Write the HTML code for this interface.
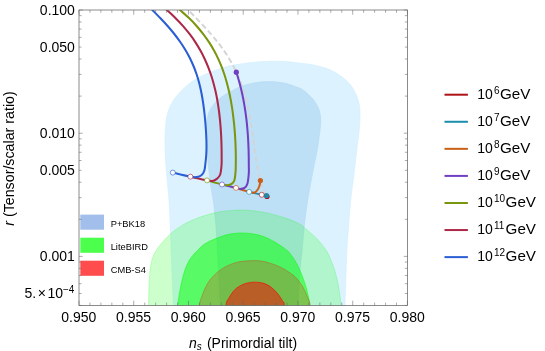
<!DOCTYPE html>
<html><head><meta charset="utf-8"><title>ns-r plot</title>
<style>
html,body{margin:0;padding:0;background:#fff;}
body{width:545px;height:351px;position:relative;overflow:hidden;font-family:"Liberation Sans",sans-serif;}
</style></head><body>
<svg width="545" height="351" viewBox="0 0 545 351" style="position:absolute;left:0;top:0;will-change:transform">
<defs><clipPath id="cp"><rect x="79.00" y="10.00" width="328.45" height="295.40"/></clipPath></defs>
<g clip-path="url(#cp)">
<path d="M173.30 330.00 C144.68 325.93 173.43 313.23 173.30 305.60 C173.17 297.97 172.85 293.47 172.50 284.20 C172.15 274.93 171.60 260.37 171.20 250.00 C170.80 239.63 170.47 230.33 170.10 222.00 C169.73 213.67 169.42 206.17 169.00 200.00 C168.58 193.83 168.17 191.67 167.60 185.00 C167.03 178.33 166.02 165.83 165.60 160.00 C165.18 154.17 165.20 153.63 165.10 150.00 C165.00 146.37 164.95 141.88 165.00 138.20 C165.05 134.52 165.13 131.33 165.40 127.90 C165.67 124.47 165.98 120.78 166.60 117.60 C167.22 114.42 168.03 111.57 169.10 108.80 C170.17 106.03 171.33 103.60 173.00 101.00 C174.67 98.40 176.37 96.10 179.10 93.20 C181.83 90.30 185.98 86.30 189.40 83.60 C192.82 80.90 195.93 78.95 199.60 77.00 C203.27 75.05 206.98 73.62 211.40 71.90 C215.82 70.18 221.33 68.00 226.10 66.70 C230.87 65.40 235.23 64.85 240.00 64.10 C244.77 63.35 249.80 62.67 254.70 62.20 C259.60 61.73 264.52 61.42 269.40 61.30 C274.28 61.18 279.12 61.23 284.00 61.50 C288.88 61.77 293.58 62.28 298.70 62.90 C303.82 63.52 309.58 64.10 314.70 65.20 C319.82 66.30 325.00 67.67 329.40 69.50 C333.80 71.33 337.68 73.75 341.10 76.20 C344.52 78.65 347.45 81.27 349.90 84.20 C352.35 87.13 354.37 90.92 355.80 93.80 C357.23 96.68 357.83 99.00 358.50 101.50 C359.17 104.00 359.55 106.12 359.80 108.80 C360.05 111.48 360.08 114.17 360.00 117.60 C359.92 121.03 359.62 125.73 359.30 129.40 C358.98 133.07 358.52 136.17 358.10 139.60 C357.68 143.03 357.50 144.10 356.80 150.00 C356.10 155.90 354.92 166.67 353.90 175.00 C352.88 183.33 351.57 191.67 350.70 200.00 C349.83 208.33 349.33 216.67 348.70 225.00 C348.07 233.33 347.38 240.83 346.90 250.00 C346.42 259.17 346.12 270.73 345.80 280.00 C345.48 289.27 345.13 297.27 345.00 305.60 C344.87 313.93 373.62 325.93 345.00 330.00 C316.38 334.07 201.92 334.07 173.30 330.00Z" fill="#dcf3ff" stroke="#d0ecfd" stroke-width="0.6"/>
<path d="M220.30 330.00 C207.35 325.90 220.60 315.40 220.30 305.40 C220.00 295.40 219.15 282.23 218.50 270.00 C217.85 257.77 217.00 241.22 216.40 232.00 C215.80 222.78 215.43 220.03 214.90 214.70 C214.37 209.37 213.92 204.95 213.20 200.00 C212.48 195.05 211.42 190.83 210.60 185.00 C209.78 179.17 208.85 170.83 208.30 165.00 C207.75 159.17 207.63 155.00 207.30 150.00 C206.97 145.00 206.43 139.42 206.30 135.00 C206.17 130.58 206.25 126.67 206.50 123.50 C206.75 120.33 207.18 118.33 207.80 116.00 C208.42 113.67 209.23 111.42 210.20 109.50 C211.17 107.58 212.30 106.12 213.60 104.50 C214.90 102.88 215.92 101.55 218.00 99.80 C220.08 98.05 223.53 95.63 226.10 94.00 C228.67 92.37 230.83 91.28 233.40 90.00 C235.97 88.72 237.95 87.50 241.50 86.30 C245.05 85.10 250.05 83.58 254.70 82.80 C259.35 82.02 264.52 81.57 269.40 81.60 C274.28 81.63 279.60 82.15 284.00 83.00 C288.40 83.85 292.97 85.73 295.80 86.70 C298.63 87.67 299.17 87.77 301.00 88.80 C302.83 89.83 304.75 91.12 306.80 92.90 C308.85 94.68 311.50 97.27 313.30 99.50 C315.10 101.73 316.60 104.47 317.60 106.30 C318.60 108.13 318.80 108.62 319.30 110.50 C319.80 112.38 320.42 114.95 320.60 117.60 C320.78 120.25 320.63 123.22 320.40 126.40 C320.17 129.58 319.72 132.77 319.20 136.70 C318.68 140.63 318.32 144.12 317.25 150.00 C316.18 155.88 314.04 165.63 312.80 172.00 C311.56 178.37 310.64 183.53 309.80 188.20 C308.96 192.87 308.60 194.37 307.75 200.00 C306.90 205.63 305.64 213.67 304.70 222.00 C303.76 230.33 302.83 242.50 302.10 250.00 C301.37 257.50 300.90 259.88 300.30 267.00 C299.70 274.12 298.88 286.27 298.50 292.70 C298.12 299.13 298.08 299.38 298.00 305.60 C297.92 311.82 310.95 325.93 298.00 330.00 C285.05 334.07 233.25 334.10 220.30 330.00Z" fill="#bee0f7" stroke="#b5d8f2" stroke-width="0.6"/>
<path d="M148.50 330.00 C116.43 325.93 148.40 313.23 148.50 305.60 C148.60 297.97 148.80 290.33 149.10 284.20 C149.40 278.07 149.77 273.08 150.30 268.80 C150.83 264.52 151.27 261.63 152.30 258.50 C153.33 255.37 154.63 252.90 156.50 250.00 C158.37 247.10 160.87 244.05 163.50 241.10 C166.13 238.15 168.88 235.12 172.30 232.30 C175.72 229.48 179.60 226.65 184.00 224.20 C188.40 221.75 194.28 219.30 198.70 217.60 C203.12 215.90 206.95 214.97 210.50 214.00 C214.05 213.03 216.47 212.40 220.00 211.80 C223.53 211.20 227.78 210.70 231.70 210.40 C235.62 210.10 239.58 209.90 243.50 210.00 C247.42 210.10 251.28 210.52 255.20 211.00 C259.12 211.48 263.08 212.08 267.00 212.90 C270.92 213.72 274.78 214.75 278.70 215.90 C282.62 217.05 286.95 218.42 290.50 219.80 C294.05 221.18 297.63 222.85 300.00 224.20 C302.37 225.55 301.97 225.57 304.70 227.90 C307.43 230.23 312.85 234.52 316.40 238.20 C319.95 241.88 323.57 246.32 326.00 250.00 C328.43 253.68 329.45 256.60 331.00 260.30 C332.55 264.00 334.02 267.65 335.30 272.20 C336.58 276.75 337.77 282.03 338.70 287.60 C339.63 293.17 340.53 298.53 340.90 305.60 C341.27 312.67 372.97 325.93 340.90 330.00 C308.83 334.07 180.57 334.07 148.50 330.00Z" fill="rgb(0,255,0)" fill-opacity="0.2" stroke="rgb(0,255,0)" stroke-opacity="0.3" stroke-width="0.7"/>
<path d="M177.90 330.00 C155.93 325.93 177.67 311.53 177.90 305.60 C178.13 299.67 178.63 298.53 179.30 294.40 C179.97 290.27 180.90 285.07 181.90 280.80 C182.90 276.53 183.88 272.52 185.30 268.80 C186.72 265.08 188.28 261.63 190.40 258.50 C192.52 255.37 195.63 252.42 198.00 250.00 C200.37 247.58 202.03 245.73 204.60 244.00 C207.17 242.27 210.83 240.77 213.40 239.60 C215.97 238.43 217.43 237.88 220.00 237.00 C222.57 236.12 225.37 234.97 228.80 234.30 C232.23 233.63 236.68 233.08 240.60 233.00 C244.52 232.92 248.40 233.18 252.30 233.80 C256.20 234.42 260.33 235.37 264.00 236.70 C267.67 238.03 270.87 239.83 274.30 241.80 C277.73 243.77 281.98 246.57 284.60 248.50 C287.22 250.43 287.97 250.87 290.00 253.40 C292.03 255.93 294.67 259.70 296.80 263.70 C298.93 267.70 301.08 272.85 302.80 277.40 C304.52 281.95 305.95 286.30 307.10 291.00 C308.25 295.70 309.27 299.10 309.70 305.60 C310.13 312.10 331.67 325.93 309.70 330.00 C287.73 334.07 199.87 334.07 177.90 330.00Z" fill="rgb(0,255,0)" fill-opacity="0.5" stroke="rgb(0,255,0)" stroke-opacity="0.6" stroke-width="0.8"/>
<path d="M199.50 330.00 C181.05 325.93 199.10 311.23 199.50 305.60 C199.90 299.97 200.85 299.33 201.90 296.20 C202.95 293.07 204.37 289.62 205.80 286.80 C207.23 283.98 208.42 281.85 210.50 279.30 C212.58 276.75 215.63 273.68 218.30 271.50 C220.97 269.32 223.48 267.72 226.50 266.20 C229.52 264.68 232.82 263.30 236.40 262.40 C239.98 261.50 244.15 261.07 248.00 260.80 C251.85 260.53 255.93 260.45 259.50 260.80 C263.07 261.15 265.82 261.80 269.40 262.90 C272.98 264.00 277.48 265.68 281.00 267.40 C284.52 269.12 287.87 271.35 290.50 273.20 C293.13 275.05 294.75 276.23 296.80 278.50 C298.85 280.77 301.08 283.85 302.80 286.80 C304.52 289.75 305.87 293.07 307.10 296.20 C308.33 299.33 309.68 299.97 310.20 305.60 C310.72 311.23 328.65 325.93 310.20 330.00 C291.75 334.07 217.95 334.07 199.50 330.00Z" fill="rgb(255,0,0)" fill-opacity="0.22" stroke="rgb(255,0,0)" stroke-opacity="0.35" stroke-width="0.8"/>
<path d="M226.00 330.00 C216.28 325.90 225.50 310.75 226.00 305.40 C226.50 300.05 227.53 300.52 229.00 297.90 C230.47 295.28 232.47 291.95 234.80 289.70 C237.13 287.45 239.98 285.65 243.00 284.40 C246.02 283.15 249.60 282.42 252.90 282.20 C256.20 281.98 259.77 282.27 262.80 283.10 C265.83 283.93 268.62 285.42 271.10 287.20 C273.58 288.98 275.77 291.47 277.70 293.80 C279.63 296.13 281.60 299.27 282.70 301.20 C283.80 303.13 284.03 300.60 284.30 305.40 C284.57 310.20 294.02 325.90 284.30 330.00 C274.58 334.10 235.72 334.10 226.00 330.00Z" fill="rgb(255,0,0)" fill-opacity="0.5" stroke="rgb(255,0,0)" stroke-opacity="0.7" stroke-width="0.9"/>
<path d="M188.30 10.00 C189.58 11.33 193.43 15.33 195.99 17.99 C198.54 20.66 201.14 23.32 203.62 25.98 C206.10 28.65 208.55 31.31 210.87 33.97 C213.19 36.64 215.43 39.30 217.54 41.97 C219.64 44.63 221.64 47.29 223.51 49.96 C225.38 52.62 227.12 55.28 228.75 57.95 C230.38 60.61 231.88 63.28 233.28 65.94 C234.67 68.60 235.95 71.27 237.14 73.93 C238.33 76.59 239.41 79.26 240.41 81.92 C241.42 84.59 242.33 87.25 243.18 89.91 C244.03 92.58 244.80 95.24 245.52 97.90 C246.24 100.57 246.90 103.23 247.51 105.90 C248.13 108.56 248.69 111.22 249.22 113.89 C249.75 116.55 250.24 119.21 250.70 121.88 C251.16 124.54 251.59 127.21 252.00 129.87 C252.41 132.53 252.79 135.20 253.17 137.86 C253.54 140.52 253.90 143.19 254.25 145.85 C254.61 148.52 254.95 151.18 255.31 153.84 C255.68 156.51 256.03 159.17 256.44 161.83 C256.85 164.50 257.27 167.16 257.78 169.83 C258.29 172.49 258.82 175.15 259.51 177.82 C260.20 180.48 260.93 183.14 261.91 185.81 C262.89 188.47 264.80 192.47 265.38 193.80" fill="none" stroke="#d4d4d4" stroke-width="1.9" stroke-dasharray="5.6 3" stroke-dashoffset="-2.5"/>
<path d="M267.00 196.50 C266.12 196.22 262.58 195.08 261.70 194.80" fill="none" stroke="#ad1218" stroke-width="2.05" stroke-linecap="round" stroke-linejoin="round"/>
<path d="M266.50 195.50 C265.70 195.38 264.58 195.40 261.70 194.80 C258.82 194.20 251.28 192.38 249.20 191.90" fill="none" stroke="#1a8cac" stroke-width="2.05" stroke-linecap="round" stroke-linejoin="round"/>
<path d="M260.40 180.50 C260.35 180.92 260.30 182.00 260.10 183.00 C259.90 184.00 259.65 185.33 259.20 186.50 C258.75 187.67 258.17 188.98 257.40 190.00 C256.63 191.02 255.50 192.15 254.60 192.60 C253.70 193.05 252.90 192.82 252.00 192.70 C251.10 192.58 251.87 192.70 249.20 191.90 C246.53 191.10 238.20 188.57 236.00 187.90" fill="none" stroke="#c95f18" stroke-width="2.05" stroke-linecap="round" stroke-linejoin="round"/>
<path d="M236.35 72.20 C236.74 73.50 237.98 77.39 238.71 79.99 C239.45 82.59 240.14 85.19 240.78 87.78 C241.42 90.38 242.00 92.98 242.55 95.58 C243.10 98.17 243.60 100.77 244.06 103.37 C244.53 105.97 244.94 108.56 245.33 111.16 C245.71 113.76 246.05 116.36 246.36 118.95 C246.67 121.55 246.94 124.15 247.18 126.75 C247.43 129.34 247.64 131.94 247.82 134.54 C248.00 137.14 248.15 139.73 248.28 142.33 C248.41 144.93 248.51 147.53 248.59 150.12 C248.67 152.72 248.73 155.32 248.76 157.92 C248.80 160.51 248.82 163.11 248.82 165.71 C248.83 168.31 249.03 170.48 248.79 173.50 C248.55 176.52 248.11 181.40 247.40 183.80 C246.69 186.20 245.72 187.05 244.50 187.90 C243.28 188.75 241.52 188.90 240.10 188.90 C238.68 188.90 239.02 188.63 236.00 187.90 C232.98 187.17 224.33 185.07 222.00 184.50" fill="none" stroke="#7040c2" stroke-width="2.05" stroke-linecap="round" stroke-linejoin="round"/>
<path d="M179.98 10.00 C181.48 11.35 186.20 15.40 189.00 18.10 C191.81 20.80 194.38 23.50 196.79 26.20 C199.19 28.90 201.40 31.60 203.46 34.30 C205.53 37.00 207.41 39.70 209.16 42.40 C210.92 45.10 212.52 47.80 214.01 50.50 C215.50 53.20 216.85 55.90 218.11 58.60 C219.37 61.30 220.51 64.00 221.57 66.70 C222.63 69.40 223.58 72.10 224.47 74.80 C225.35 77.50 226.15 80.20 226.89 82.90 C227.63 85.60 228.30 88.30 228.91 91.00 C229.53 93.70 230.08 96.40 230.59 99.10 C231.10 101.80 231.56 104.50 231.98 107.20 C232.40 109.90 232.77 112.60 233.11 115.30 C233.45 118.00 233.76 120.70 234.03 123.40 C234.30 126.10 234.54 128.80 234.75 131.50 C234.96 134.20 235.14 136.90 235.29 139.60 C235.44 142.30 235.56 145.00 235.65 147.70 C235.74 150.40 235.80 153.10 235.82 155.80 C235.85 158.50 235.84 161.20 235.79 163.90 C235.74 166.60 235.80 169.18 235.53 172.00 C235.27 174.82 235.02 178.72 234.20 180.80 C233.38 182.88 231.93 183.77 230.60 184.50 C229.27 185.23 227.63 185.20 226.20 185.20 C224.77 185.20 225.20 185.30 222.00 184.50 C218.80 183.70 209.50 181.08 207.00 180.40" fill="none" stroke="#7a960e" stroke-width="2.05" stroke-linecap="round" stroke-linejoin="round"/>
<path d="M166.79 10.00 C168.26 11.36 172.87 15.44 175.62 18.16 C178.37 20.88 180.91 23.60 183.29 26.32 C185.68 29.04 187.88 31.75 189.94 34.47 C192.00 37.19 193.89 39.91 195.65 42.63 C197.42 45.35 199.03 48.07 200.54 50.79 C202.05 53.51 203.42 56.23 204.70 58.95 C205.97 61.67 207.13 64.39 208.20 67.11 C209.28 69.82 210.24 72.54 211.14 75.26 C212.04 77.98 212.84 80.70 213.58 83.42 C214.32 86.14 214.98 88.86 215.59 91.58 C216.20 94.30 216.74 97.02 217.23 99.74 C217.72 102.46 218.15 105.18 218.54 107.89 C218.93 110.61 219.27 113.33 219.58 116.05 C219.88 118.77 220.14 121.49 220.37 124.21 C220.60 126.93 220.80 129.65 220.96 132.37 C221.12 135.09 221.25 137.81 221.35 140.53 C221.46 143.25 221.53 145.96 221.58 148.68 C221.63 151.40 221.65 154.12 221.64 156.84 C221.63 159.56 221.78 162.06 221.54 165.00 C221.30 167.94 220.99 172.18 220.20 174.50 C219.41 176.82 218.10 177.83 216.80 178.90 C215.50 179.97 214.03 180.65 212.40 180.90 C210.77 181.15 210.67 181.10 207.00 180.40 C203.33 179.70 193.17 177.32 190.40 176.70" fill="none" stroke="#ac2848" stroke-width="2.05" stroke-linecap="round" stroke-linejoin="round"/>
<path d="M152.30 10.00 C153.62 11.33 157.67 15.33 160.22 18.00 C162.77 20.67 165.25 23.33 167.60 26.00 C169.95 28.67 172.20 31.33 174.31 34.00 C176.42 36.67 178.41 39.33 180.26 42.00 C182.12 44.67 183.84 47.33 185.43 50.00 C187.03 52.67 188.49 55.33 189.83 58.00 C191.18 60.67 192.39 63.33 193.50 66.00 C194.61 68.67 195.59 71.33 196.50 74.00 C197.40 76.67 198.19 79.33 198.91 82.00 C199.63 84.67 200.26 87.33 200.83 90.00 C201.41 92.67 201.90 95.33 202.35 98.00 C202.81 100.67 203.20 103.33 203.56 106.00 C203.93 108.67 204.24 111.33 204.53 114.00 C204.82 116.67 205.08 119.33 205.31 122.00 C205.54 124.67 205.74 127.33 205.91 130.00 C206.08 132.67 206.23 135.33 206.33 138.00 C206.43 140.67 206.50 143.33 206.50 146.00 C206.49 148.67 206.46 151.33 206.30 154.00 C206.15 156.67 205.91 159.20 205.57 162.00 C205.24 164.80 205.00 168.60 204.30 170.80 C203.60 173.00 202.62 174.17 201.40 175.20 C200.18 176.23 198.83 176.75 197.00 177.00 C195.17 177.25 194.43 177.43 190.40 176.70 C186.37 175.97 175.73 173.28 172.80 172.60" fill="none" stroke="#2b5ed4" stroke-width="2.05" stroke-linecap="round" stroke-linejoin="round"/>
<circle cx="236.3" cy="72.2" r="2.6" fill="#7040c2"/>
<circle cx="260.4" cy="180.5" r="2.6" fill="#c95f18"/>
<circle cx="267.0" cy="196.5" r="2.6" fill="#ad1218"/>
<circle cx="266.5" cy="195.5" r="2.6" fill="#1a8cac"/>
<circle cx="172.8" cy="172.6" r="2.5" fill="#fff" stroke="#2b5ed4" stroke-width="0.65"/>
<circle cx="190.4" cy="176.7" r="2.5" fill="#fff" stroke="#ac2848" stroke-width="0.65"/>
<circle cx="207.0" cy="180.4" r="2.5" fill="#fff" stroke="#7a960e" stroke-width="0.65"/>
<circle cx="222.0" cy="184.5" r="2.5" fill="#fff" stroke="#7040c2" stroke-width="0.65"/>
<circle cx="236.0" cy="187.9" r="2.5" fill="#fff" stroke="#c95f18" stroke-width="0.65"/>
<circle cx="249.2" cy="191.9" r="2.5" fill="#fff" stroke="#1a8cac" stroke-width="0.65"/>
<circle cx="261.7" cy="194.8" r="2.5" fill="#fff" stroke="#ad1218" stroke-width="0.65"/>
</g>
<rect x="80.3" y="214.6" width="23.7" height="15.1" fill="#a2beeb"/>
<rect x="80.3" y="237.7" width="23.7" height="15.1" fill="#4dff4d"/>
<rect x="80.3" y="260.7" width="23.7" height="15.1" fill="#ff4d4d"/>
<path d="M79.00 305.40v-4.70M79.00 10.00v4.70M89.95 305.40v-2.80M89.95 10.00v2.80M100.90 305.40v-2.80M100.90 10.00v2.80M111.85 305.40v-2.80M111.85 10.00v2.80M122.79 305.40v-2.80M122.79 10.00v2.80M133.74 305.40v-4.70M133.74 10.00v4.70M144.69 305.40v-2.80M144.69 10.00v2.80M155.64 305.40v-2.80M155.64 10.00v2.80M166.59 305.40v-2.80M166.59 10.00v2.80M177.54 305.40v-2.80M177.54 10.00v2.80M188.48 305.40v-4.70M188.48 10.00v4.70M199.43 305.40v-2.80M199.43 10.00v2.80M210.38 305.40v-2.80M210.38 10.00v2.80M221.33 305.40v-2.80M221.33 10.00v2.80M232.28 305.40v-2.80M232.28 10.00v2.80M243.23 305.40v-4.70M243.23 10.00v4.70M254.17 305.40v-2.80M254.17 10.00v2.80M265.12 305.40v-2.80M265.12 10.00v2.80M276.07 305.40v-2.80M276.07 10.00v2.80M287.02 305.40v-2.80M287.02 10.00v2.80M297.97 305.40v-4.70M297.97 10.00v4.70M308.92 305.40v-2.80M308.92 10.00v2.80M319.86 305.40v-2.80M319.86 10.00v2.80M330.81 305.40v-2.80M330.81 10.00v2.80M341.76 305.40v-2.80M341.76 10.00v2.80M352.71 305.40v-4.70M352.71 10.00v4.70M363.66 305.40v-2.80M363.66 10.00v2.80M374.61 305.40v-2.80M374.61 10.00v2.80M385.55 305.40v-2.80M385.55 10.00v2.80M396.50 305.40v-2.80M396.50 10.00v2.80M407.45 305.40v-4.70M407.45 10.00v4.70M79.00 10.00h3.70M407.45 10.00h-3.70M79.00 133.20h3.70M407.45 133.20h-3.70M79.00 96.11h2.60M407.45 96.11h-2.60M79.00 74.42h2.60M407.45 74.42h-2.60M79.00 59.03h2.60M407.45 59.03h-2.60M79.00 47.09h2.60M407.45 47.09h-2.60M79.00 37.33h2.60M407.45 37.33h-2.60M79.00 29.08h2.60M407.45 29.08h-2.60M79.00 21.94h2.60M407.45 21.94h-2.60M79.00 15.64h2.60M407.45 15.64h-2.60M79.00 256.40h3.70M407.45 256.40h-3.70M79.00 219.31h2.60M407.45 219.31h-2.60M79.00 197.62h2.60M407.45 197.62h-2.60M79.00 182.23h2.60M407.45 182.23h-2.60M79.00 170.29h2.60M407.45 170.29h-2.60M79.00 160.53h2.60M407.45 160.53h-2.60M79.00 152.28h2.60M407.45 152.28h-2.60M79.00 145.14h2.60M407.45 145.14h-2.60M79.00 138.84h2.60M407.45 138.84h-2.60M79.00 305.43h2.60M407.45 305.43h-2.60M79.00 293.49h2.60M407.45 293.49h-2.60M79.00 283.73h2.60M407.45 283.73h-2.60M79.00 275.48h2.60M407.45 275.48h-2.60M79.00 268.34h2.60M407.45 268.34h-2.60M79.00 262.04h2.60M407.45 262.04h-2.60" stroke="#666" stroke-width="0.55" fill="none"/>
<rect x="79.00" y="10.00" width="328.45" height="295.40" fill="none" stroke="#666" stroke-width="0.75"/>
<path d="M444.5 94.70H467.9" stroke="#ad1218" stroke-width="2"/>
<path d="M444.5 121.77H467.9" stroke="#1a8cac" stroke-width="2"/>
<path d="M444.5 148.84H467.9" stroke="#c95f18" stroke-width="2"/>
<path d="M444.5 175.91H467.9" stroke="#7040c2" stroke-width="2"/>
<path d="M444.5 202.98H467.9" stroke="#7a960e" stroke-width="2"/>
<path d="M444.5 230.05H467.9" stroke="#ac2848" stroke-width="2"/>
<path d="M444.5 257.12H467.9" stroke="#2b5ed4" stroke-width="2"/>
<g font-family="Liberation Sans, sans-serif" fill="#000">
<text x="78.80" y="322.10" font-size="14" text-anchor="middle" >0.950</text>
<text x="133.54" y="322.10" font-size="14" text-anchor="middle" >0.955</text>
<text x="188.28" y="322.10" font-size="14" text-anchor="middle" >0.960</text>
<text x="243.03" y="322.10" font-size="14" text-anchor="middle" >0.965</text>
<text x="297.77" y="322.10" font-size="14" text-anchor="middle" >0.970</text>
<text x="352.51" y="322.10" font-size="14" text-anchor="middle" >0.975</text>
<text x="407.25" y="322.10" font-size="14" text-anchor="middle" >0.980</text>
<text x="74.90" y="14.70" font-size="14" text-anchor="end" >0.100</text>
<text x="74.90" y="51.79" font-size="14" text-anchor="end" >0.050</text>
<text x="74.90" y="137.90" font-size="14" text-anchor="end" >0.010</text>
<text x="74.90" y="174.99" font-size="14" text-anchor="end" >0.005</text>
<text x="74.90" y="261.10" font-size="14" text-anchor="end" >0.001</text>
<text x="24.4" y="298.2" font-size="14">5.<tspan dx="1.7">×</tspan><tspan dx="1.4">10</tspan><tspan font-size="10" dy="-4.8">−4</tspan></text>
<text x="189" y="347.5" font-size="14"><tspan font-style="italic">n</tspan><tspan font-size="10" font-style="italic" dy="2.5">s</tspan></text><text x="206.9" y="347.5" font-size="14">(Primordial tilt)</text>
<text transform="translate(13.8,225.8) rotate(-90)" font-size="14" textLength="134.5" lengthAdjust="spacingAndGlyphs"><tspan font-style="italic">r</tspan> (Tensor/scalar ratio)</text>
<text x="110.70" y="226.70" font-size="9.3" text-anchor="start" >P+BK18</text>
<text x="110.70" y="249.75" font-size="9.3" text-anchor="start" >LiteBIRD</text>
<text x="110.70" y="272.80" font-size="9.3" text-anchor="start" >CMB-S4</text>
<text x="477.2" y="98.60" font-size="14">10</text><text x="494.0" y="93.70" font-size="10">6</text><text x="500.0" y="98.60" font-size="14" textLength="30.4" lengthAdjust="spacingAndGlyphs">GeV</text>
<text x="477.2" y="125.67" font-size="14">10</text><text x="494.0" y="120.77" font-size="10">7</text><text x="500.0" y="125.67" font-size="14" textLength="30.4" lengthAdjust="spacingAndGlyphs">GeV</text>
<text x="477.2" y="152.74" font-size="14">10</text><text x="494.0" y="147.84" font-size="10">8</text><text x="500.0" y="152.74" font-size="14" textLength="30.4" lengthAdjust="spacingAndGlyphs">GeV</text>
<text x="477.2" y="179.81" font-size="14">10</text><text x="494.0" y="174.91" font-size="10">9</text><text x="500.0" y="179.81" font-size="14" textLength="30.4" lengthAdjust="spacingAndGlyphs">GeV</text>
<text x="477.2" y="206.88" font-size="14">10</text><text x="494.0" y="201.98" font-size="10">10</text><text x="505.6" y="206.88" font-size="14" textLength="30.4" lengthAdjust="spacingAndGlyphs">GeV</text>
<text x="477.2" y="233.95" font-size="14">10</text><text x="494.0" y="229.05" font-size="10">11</text><text x="505.6" y="233.95" font-size="14" textLength="30.4" lengthAdjust="spacingAndGlyphs">GeV</text>
<text x="477.2" y="261.02" font-size="14">10</text><text x="494.0" y="256.12" font-size="10">12</text><text x="505.6" y="261.02" font-size="14" textLength="30.4" lengthAdjust="spacingAndGlyphs">GeV</text>
</g>
</svg>
</body></html>
